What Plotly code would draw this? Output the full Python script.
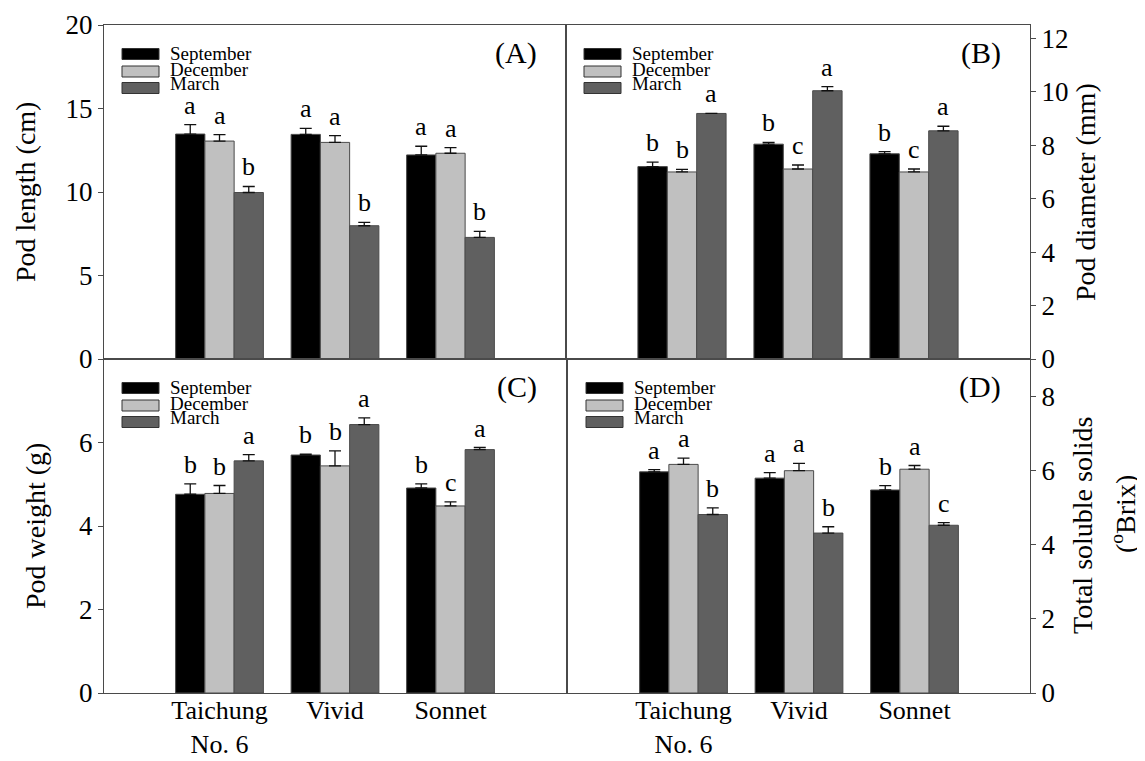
import plotly.graph_objects as go

# ---------------- data ----------------
cultivars = ["Taichung<br>No. 6", "Vivid", "Sonnet"]
cat_pos = [1, 2, 3]
seasons = ["September", "December", "March"]

# (A) Pod length (cm)
length_sep = [13.47, 13.45, 12.22]
length_dec = [13.05, 12.97, 12.32]
length_mar = [9.97, 7.98, 7.28]
length_sep_err = [0.56, 0.36, 0.52]
length_dec_err = [0.38, 0.40, 0.34]
length_mar_err = [0.36, 0.20, 0.36]
length_sep_let = ["a", "a", "a"]
length_dec_let = ["a", "a", "a"]
length_mar_let = ["b", "b", "b"]

# (B) Pod diameter (mm)
diam_sep = [7.20, 8.04, 7.68]
diam_dec = [7.00, 7.11, 7.00]
diam_mar = [9.19, 10.04, 8.54]
diam_sep_err = [0.17, 0.07, 0.08]
diam_dec_err = [0.10, 0.15, 0.11]
diam_mar_err = [0.00, 0.15, 0.17]
diam_sep_let = ["b", "b", "b"]
diam_dec_let = ["b", "c", "c"]
diam_mar_let = ["a", "a", "a"]

# (C) Pod weight (g)
weight_sep = [4.76, 5.70, 4.91]
weight_dec = [4.78, 5.44, 4.48]
weight_mar = [5.56, 6.43, 5.83]
weight_sep_err = [0.25, 0.02, 0.10]
weight_dec_err = [0.19, 0.36, 0.10]
weight_mar_err = [0.15, 0.16, 0.05]
weight_sep_let = ["b", "b", "b"]
weight_dec_let = ["b", "b", "c"]
weight_mar_let = ["a", "a", "a"]

# (D) Total soluble solids (Brix)
tss_sep = [5.96, 5.79, 5.47]
tss_dec = [6.16, 5.99, 6.03]
tss_mar = [4.81, 4.31, 4.52]
tss_sep_err = [0.06, 0.15, 0.12]
tss_dec_err = [0.17, 0.20, 0.10]
tss_mar_err = [0.18, 0.17, 0.07]
tss_sep_let = ["a", "a", "b"]
tss_dec_let = ["a", "a", "a"]
tss_mar_let = ["b", "b", "c"]

# ---------------- style ----------------
colors = ["#000000", "#c0c0c0", "#606060"]
FONT = "Liberation Serif, Times New Roman, serif"
LINE = "#4a4a4a"
W, H = 1145, 761
ML, MR, MT, MB = 96, 123, 17, 76
PW, PH = W - ML - MR, H - MT - MB
BARGAP = 0.24
bar_w = (1 - BARGAP) / 3

panels = [
    dict(ax="", vals=[length_sep, length_dec, length_mar],
         errs=[length_sep_err, length_dec_err, length_mar_err],
         lets=[length_sep_let, length_dec_let, length_mar_let], label="(A)",
         px=(96, 558), py=(17, 351)),
    dict(ax="2", vals=[diam_sep, diam_dec, diam_mar],
         errs=[diam_sep_err, diam_dec_err, diam_mar_err],
         lets=[diam_sep_let, diam_dec_let, diam_mar_let], label="(B)",
         px=(558, 1022), py=(17, 351)),
    dict(ax="3", vals=[weight_sep, weight_dec, weight_mar],
         errs=[weight_sep_err, weight_dec_err, weight_mar_err],
         lets=[weight_sep_let, weight_dec_let, weight_mar_let], label="(C)",
         px=(96, 558), py=(351, 685)),
    dict(ax="4", vals=[tss_sep, tss_dec, tss_mar],
         errs=[tss_sep_err, tss_dec_err, tss_mar_err],
         lets=[tss_sep_let, tss_dec_let, tss_mar_let], label="(D)",
         px=(560, 1022), py=(351, 685)),
]

fig = go.Figure()
annotations = []
shapes = []

for p in panels:
    xa = "x" + p["ax"]
    ya = "y" + p["ax"]
    for j, s in enumerate(seasons):
        fig.add_trace(go.Bar(
            x=cat_pos, y=p["vals"][j], name=s,
            marker=dict(color=colors[j], line=dict(color=LINE, width=1)),
            error_y=dict(type="data", symmetric=False, array=p["errs"][j],
                         arrayminus=[0] * 3, color="#111111", thickness=1.3, width=6),
            xaxis=xa, yaxis=ya, showlegend=False, hoverinfo="skip"))
        # significance letters
        for i in range(3):
            annotations.append(dict(
                x=cat_pos[i] + (j - 1) * bar_w, y=p["vals"][j][i] + p["errs"][j][i],
                xref=xa, yref=ya, text=p["lets"][j][i], showarrow=False,
                xanchor="center", yanchor="bottom", yshift=3,
                font=dict(family=FONT, size=26, color="black")))
    # legend (swatches + text) in panel-domain coordinates
    x0, x1 = p["px"]
    y0, y1 = p["py"]
    pw, ph = x1 - x0, y1 - y0
    sw_rows = [29, 46.5, 63]
    tx_rows = [28, 44, 58]
    for j, s in enumerate(seasons):
        shapes.append(dict(type="rect", xref=xa + " domain", yref=ya + " domain",
                           x0=18 / pw, x1=55 / pw,
                           y0=1 - (sw_rows[j] + 5.5) / ph, y1=1 - (sw_rows[j] - 5.5) / ph,
                           fillcolor=colors[j], line=dict(color="#333333", width=1)))
        annotations.append(dict(x=64 / pw, y=1 - tx_rows[j] / ph,
                                xref=xa + " domain", yref=ya + " domain",
                                text=s, showarrow=False, xanchor="left", yanchor="middle",
                                font=dict(family=FONT, size=19, color="black")))
    annotations.append(dict(x=1 - 27 / pw, y=1 - 28 / ph,
                            xref=xa + " domain", yref=ya + " domain",
                            text=p["label"], showarrow=False, xanchor="right", yanchor="middle",
                            font=dict(family=FONT, size=30, color="black")))

# axis titles
def paper_x(px):
    return (px - ML) / PW

def paper_y(py):
    return 1 - (py - MT) / PH

titles = [
    ("Pod length (cm)", 17, 184),
    ("Pod diameter (mm)", 1077, 184),
    ("Pod weight (g)", 27, 518),
    ("Total soluble solids", 1074, 518),
    ("(<sup>o</sup>Brix)", 1115, 506),
]
for t, tx, ty in titles:
    annotations.append(dict(x=paper_x(tx), y=paper_y(ty), xref="paper", yref="paper",
                            text=t, showarrow=False, textangle=-90,
                            xanchor="center", yanchor="middle",
                            font=dict(family=FONT, size=28, color="black")))

def xdom(a, b):
    return [(a - ML) / PW, (b - ML) / PW]

def ydom(a, b):
    return [1 - (b - MT) / PH, 1 - (a - MT) / PH]

tickfont = dict(family=FONT, size=27, color="black")
common_x = dict(range=[0, 4], showline=True, linecolor=LINE, linewidth=1, mirror=True,
                showgrid=False, zeroline=False, tickvals=cat_pos, ticktext=cultivars,
                ticks="", ticklen=0, ticklabelstandoff=-6,
                tickfont=dict(family=FONT, size=26, color="black"))
common_y = dict(showline=True, linecolor=LINE, linewidth=1, mirror=True, showgrid=False,
                zeroline=False, ticks="outside", ticklen=5, tickcolor=LINE, tickfont=tickfont)

fig.update_layout(
    width=W, height=H, plot_bgcolor="white", paper_bgcolor="white",
    margin=dict(l=ML, r=MR, t=MT, b=MB, autoexpand=False),
    barmode="group", bargap=BARGAP, bargroupgap=0,
    font=dict(family=FONT, color="black"),
    xaxis=dict(common_x, domain=xdom(96, 558), anchor="y", showticklabels=False),
    yaxis=dict(common_y, domain=ydom(17, 351), anchor="x", range=[0, 20],
               tickvals=[0, 5, 10, 15, 20]),
    xaxis2=dict(common_x, domain=xdom(558, 1022), anchor="y2", showticklabels=False),
    yaxis2=dict(common_y, domain=ydom(17, 351), anchor="x2", range=[0, 12.5], side="right",
                tickvals=[0, 2, 4, 6, 8, 10, 12]),
    xaxis3=dict(common_x, domain=xdom(96, 558), anchor="y3"),
    yaxis3=dict(common_y, domain=ydom(351, 685), anchor="x3", range=[0, 8],
                tickvals=[0, 2, 4, 6]),
    xaxis4=dict(common_x, domain=xdom(560, 1022), anchor="y4"),
    yaxis4=dict(common_y, domain=ydom(351, 685), anchor="x4", range=[0, 9], side="right",
                tickvals=[0, 2, 4, 6, 8]),
    annotations=annotations, shapes=shapes,
)

fig.write_html("out.html")
